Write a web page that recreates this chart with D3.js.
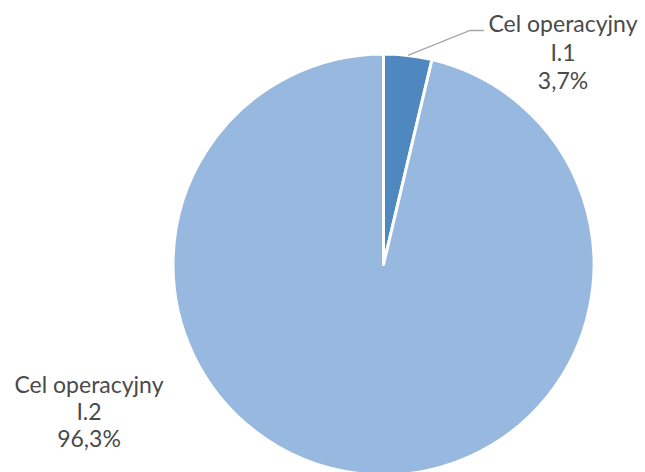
<!DOCTYPE html>
<html><head><meta charset="utf-8">
<script src="https://cdn.jsdelivr.net/npm/d3@7"></script>
<style>body{margin:0;background:#fff}svg{display:block}</style>
</head><body>
<svg id="c" width="645" height="472"></svg>
<script>
const categories = ["Cel operacyjny I.1", "Cel operacyjny I.2"];
const labelLine1 = ["Cel operacyjny", "Cel operacyjny"];
const labelLine2 = ["I.1", "I.2"];
const values = [3.7, 96.3];
const valueLabels = ["3,7%", "96,3%"];
const colors = ["#4f88bf", "#98b9df"];

const svg = d3.select("#c");
const cx = 383.5, cy = 264.5, r = 210.5;
const g = svg.append("g").attr("transform", `translate(${cx},${cy})`);
const pie = d3.pie().sort(null).value(d => d);
const arcs = pie(values);
const arc = d3.arc().innerRadius(0).outerRadius(r);
g.selectAll("path").data(arcs).join("path")
  .attr("d", arc).attr("fill", (d,i) => colors[i])
  .attr("stroke", "#fff").attr("stroke-width", 3).attr("stroke-linejoin","round");

// leader line for first slice
const a0 = arcs[0];
const mid = (a0.startAngle + a0.endAngle) / 2;
const p0 = [Math.sin(mid) * r, -Math.cos(mid) * r];
g.append("polyline")
  .attr("points", [p0, [470 - cx, 30.5 - cy], [484 - cx, 30.5 - cy]].map(p => p.join(",")).join(" "))
  .attr("fill", "none").attr("stroke", "#a6a6a6").attr("stroke-width", 1.3);

const labelPos = [[563, 32], [89, 392.5]];
const lh = [28.5, 27.3];
arcs.forEach((d, i) => {
  const t = svg.append("text").attr("text-anchor", "middle")
    .attr("font-family", "Lato, sans-serif").attr("font-size", 23).attr("fill", "#4a4a4a");
  [labelLine1[i], labelLine2[i], valueLabels[i]].forEach((s, k) => {
    t.append("tspan").attr("x", labelPos[i][0]).attr("y", labelPos[i][1] + k * lh[i]).text(s);
  });
});
</script>
</body></html>
